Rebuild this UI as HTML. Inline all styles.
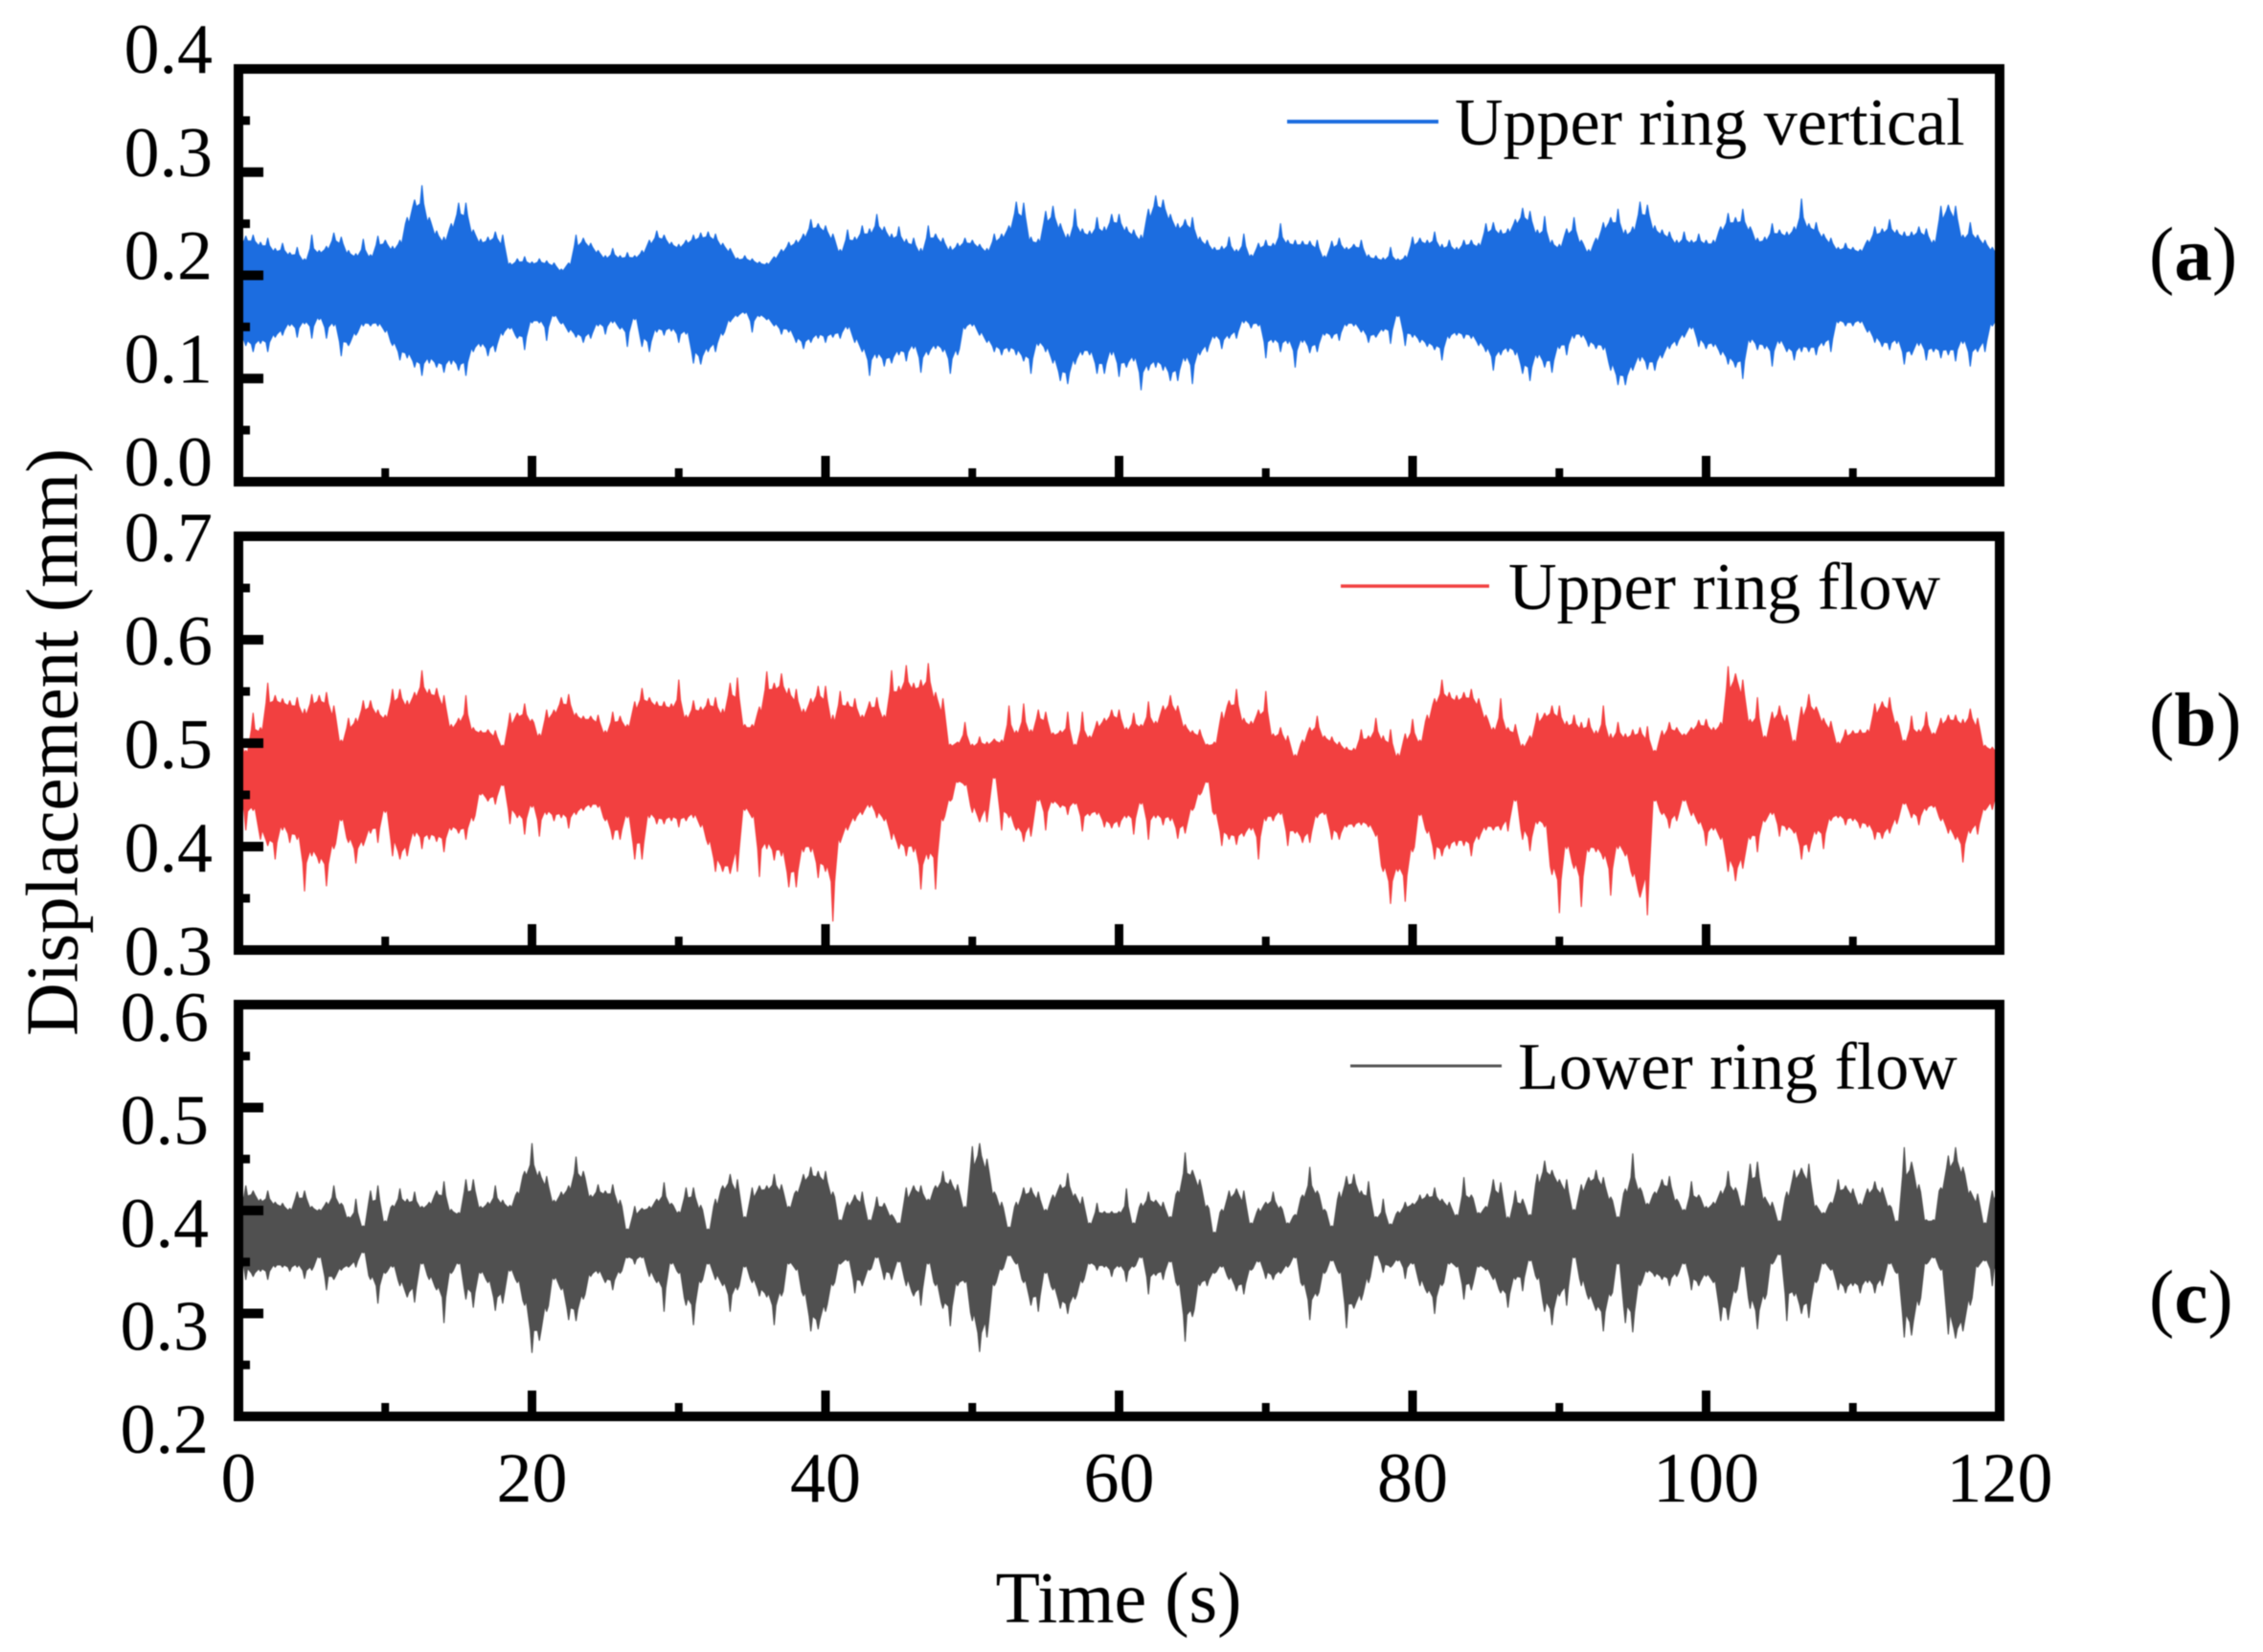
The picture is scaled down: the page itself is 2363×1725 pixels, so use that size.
<!DOCTYPE html>
<html lang="en">
<head>
<meta charset="utf-8">
<title>Displacement time histories</title>
<style>
html,body{margin:0;padding:0;background:#fff;width:2363px;height:1725px;overflow:hidden}
svg{display:block;filter:blur(.5px)}
text{font-family:"Liberation Serif","Times New Roman",serif;fill:#000}
</style>
</head>
<body>
<svg id="chart" xmlns="http://www.w3.org/2000/svg" width="2363" height="1725" viewBox="0 0 2363 1725">
  <rect width="2363" height="1725" fill="#fff"/>
  <g id="series-layer"></g>
  <g id="axes-layer"></g>

  <text transform="translate(80.5 775) rotate(-90)" text-anchor="middle" font-size="77">Displacement (mm)</text>
  <text x="1168" y="1694" text-anchor="middle" font-size="76">Time (s)</text>

  <line x1="1344" x2="1502" y1="127" y2="127" stroke="#1c6de0" stroke-width="4"/>
  <text x="1519" y="151" font-size="70">Upper ring vertical</text>
  <line x1="1400" x2="1555" y1="612" y2="612" stroke="#f24040" stroke-width="3.5"/>
  <text x="1575" y="636" font-size="70">Upper ring flow</text>
  <line x1="1410" x2="1568" y1="1113" y2="1113" stroke="#555" stroke-width="3"/>
  <text x="1585" y="1137" font-size="70">Lower ring flow</text>

  <text x="2244" y="292" font-size="79">(<tspan font-weight="bold">a</tspan>)</text>
  <text x="2244" y="778" font-size="79">(<tspan font-weight="bold">b</tspan>)</text>
  <text x="2244" y="1381" font-size="79">(<tspan font-weight="bold">c</tspan>)</text>
</svg>

<script>
// Sample spacing of the envelope arrays, seconds. Envelope values are micrometres.
const sampleStep = 0.5;

const timeTicks = [0, 20, 40, 60, 80, 100, 120];
const timeMinorTicks = [10, 30, 50, 70, 90, 110];
const ticksUpperVertical = ['0.0', '0.1', '0.2', '0.3', '0.4'];
const ticksUpperFlow = ['0.3', '0.4', '0.5', '0.6', '0.7'];
const ticksLowerFlow = ['0.2', '0.3', '0.4', '0.5', '0.6'];

const upperVerticalHigh = [
233,238,239,232,236,226,231,222,227,216,239,224,228,241,237,224,221,235,220,238,
234,228,234,256,273,287,256,243,237,250,270,270,244,235,237,242,239,212,216,218,
213,216,214,212,206,212,239,236,231,224,219,226,219,222,219,224,234,243,239,232,
230,234,239,241,242,240,231,226,217,219,216,213,212,218,225,232,234,240,254,250,
248,240,225,244,237,248,245,259,247,240,247,235,236,226,248,240,236,228,231,236,
234,230,226,240,240,248,271,270,237,235,262,267,250,240,264,245,243,256,247,259,
259,247,244,239,264,277,273,259,250,254,256,237,234,227,228,237,225,240,220,231,
234,231,250,234,234,233,233,234,219,233,236,227,230,234,220,219,217,227,216,219,
237,236,234,242,230,234,227,234,234,231,250,251,244,245,254,265,262,244,257,234,
230,245,256,234,225,236,251,256,264,244,247,271,268,248,244,242,234,242,234,240,
234,234,247,260,256,264,247,236,237,250,244,242,247,274,250,251,240,236,227,231,
227,225,234,247,245,254,244,242,242,247,245,234,267,268,267,239,251,239,234,227,
219];
const upperVerticalLow = [
142,132,126,134,126,140,142,151,140,153,139,157,139,151,122,132,142,151,151,151,
145,132,118,120,111,103,115,111,106,114,108,103,126,131,122,126,142,148,139,128,
154,154,137,160,153,145,140,135,139,151,143,154,148,131,157,131,126,145,142,146,
135,143,115,114,126,126,142,155,160,163,145,160,157,151,143,145,135,129,135,139,
135,140,139,148,135,126,103,120,112,115,123,117,129,106,123,129,126,105,123,148,
151,142,135,126,123,126,123,117,105,132,126,115,98,95,114,123,123,105,105,123,
102,111,117,89,108,111,108,98,98,117,95,123,126,139,129,139,139,154,149,151,
120,135,126,134,111,135,125,126,142,139,137,151,151,145,135,140,146,134,160,132,
140,135,131,128,118,139,142,139,139,132,126,108,123,126,123,105,98,120,111,106,
129,123,139,140,131,129,128,108,94,94,108,117,109,108,120,129,132,140,148,131,
129,131,123,114,111,100,135,128,129,112,134,126,118,126,126,123,132,126,154,151,
151,154,145,135,131,128,134,114,123,132,118,126,120,123,117,134,112,126,126,151,
157];

const upperFlowHigh = [
521,493,529,515,558,546,543,541,544,533,547,546,549,536,503,524,524,541,541,532,
527,552,552,541,549,570,552,553,546,518,524,546,515,512,513,512,498,529,529,538,
523,509,532,532,544,547,529,526,526,527,512,530,526,518,540,553,544,540,540,538,
561,527,541,535,543,544,533,558,563,518,518,535,569,558,567,553,552,533,543,555,
555,527,550,540,543,527,540,544,527,570,555,575,558,561,577,549,543,499,501,520,
499,506,501,504,503,536,512,538,513,532,530,510,512,530,499,530,507,521,524,532,
532,515,529,518,540,521,536,546,536,518,512,513,499,501,530,541,552,524,521,532,
550,509,515,507,489,503,515,526,507,506,501,496,495,513,507,524,507,513,490,509,
523,503,527,543,561,549,546,549,552,543,527,515,543,515,518,499,507,529,529,536,
536,521,527,520,524,512,536,509,520,509,513,515,516,493,512,520,515,509,515,522,
523,515,520,574,567,561,523,544,507,530,536,527,503,535,547,535,524,521,501,513,
512,513,513,538,540,544,521,503,526,513,530,510,524,527,527,523,533,524,498,496,
493];
const upperFlowLow = [
459,416,435,407,401,388,416,404,407,357,391,384,362,398,425,404,384,401,413,404,
433,391,388,391,410,398,407,405,395,416,413,407,425,450,444,441,459,422,428,412,
438,410,431,425,428,418,431,435,438,438,425,407,407,428,388,388,428,422,422,425,
419,425,428,419,402,376,376,374,376,435,428,371,398,387,391,361,361,395,395,370,
376,328,404,416,425,431,438,428,425,407,398,391,395,359,388,359,425,444,462,459,
433,424,424,466,416,428,416,405,410,444,416,442,438,431,441,415,430,431,419,418,
419,428,412,441,407,428,421,425,408,413,435,450,462,431,401,407,402,410,416,388,
425,425,431,401,413,404,404,428,431,407,407,419,419,421,419,410,376,345,376,347,
395,430,413,388,391,398,401,401,391,407,416,416,416,415,444,407,396,422,419,373,
336,398,379,342,395,395,388,353,398,391,371,351,334,444,431,418,425,444,430,422,
401,416,407,376,367,379,407,395,424,431,410,416,413,388,395,412,398,425,428,421,
425,418,419,407,408,413,422,441,428,421,435,438,425,413,407,385,413,412,435,436,
456];

const lowerFlowHigh = [
401,424,419,411,419,408,407,402,418,419,404,401,408,424,407,394,411,385,419,424,
390,405,421,411,418,404,408,419,428,401,398,430,430,404,408,424,410,405,418,438,
465,438,433,410,418,424,452,438,415,425,419,425,410,382,404,402,404,411,427,407,
399,422,422,405,382,411,424,435,430,394,422,424,424,435,425,404,419,435,442,438,
438,418,391,408,415,418,391,413,407,396,388,422,424,424,411,424,438,430,425,404,
462,465,450,418,408,384,408,422,422,418,401,415,425,436,416,413,388,407,399,399,
399,421,388,407,418,410,408,394,419,456,439,430,405,379,401,419,421,419,388,402,
408,418,404,388,396,415,442,419,401,385,418,433,435,419,428,394,411,387,399,408,
407,415,416,422,411,408,396,432,415,398,404,430,427,394,419,411,396,435,448,439,
430,430,401,425,432,439,432,413,394,421,455,422,407,418,430,433,411,401,428,415,
404,408,419,438,422,405,445,447,413,408,390,418,439,441,445,405,398,408,430,424,
421,407,421,428,422,405,390,461,447,425,391,391,422,453,461,442,419,416,388,419,
425];
const lowerFlowLow = [
361,333,336,341,333,345,345,341,345,334,342,354,323,333,342,345,345,359,333,310,
339,345,327,316,311,348,333,323,291,339,348,314,306,339,330,303,310,341,330,308,
262,274,302,333,323,294,293,314,336,339,330,323,339,354,348,354,336,330,302,348,
339,308,289,330,348,333,327,302,323,345,330,317,316,289,317,348,342,317,283,285,
302,327,348,351,320,327,342,354,333,333,350,327,317,308,348,327,305,288,327,330,
293,263,277,327,342,356,348,330,308,302,339,323,305,300,314,330,348,342,345,336,
345,331,345,354,319,337,333,350,327,273,297,327,327,339,345,333,322,319,342,350,
334,333,339,345,354,327,294,317,339,351,339,286,305,313,330,356,340,345,351,334,
348,327,320,300,327,348,345,314,323,345,342,333,320,306,333,322,351,333,302,289,
317,308,354,327,314,303,283,317,348,291,282,327,340,336,333,327,336,348,323,327,
336,330,293,294,320,345,305,285,314,348,357,293,317,300,296,330,348,342,323,320,
327,320,330,320,327,348,339,277,279,308,348,354,342,280,276,283,308,345,351,327,
354];

// ---- layout and axis functions ----
const svgNS = 'http://www.w3.org/2000/svg';
const plotLeft = 249, plotRight = 2088;
const timeMax = 120;
function xScale(t) { return plotLeft + (plotRight - plotLeft) * t / timeMax; }

function makeYScale(top, bottom, labels) {
  const lo = parseFloat(labels[0]);
  const hi = parseFloat(labels[labels.length - 1]);
  return function (v) { return bottom - (v - lo) / (hi - lo) * (bottom - top); };
}

function svgEl(tag, attrs, parent) {
  const el = document.createElementNS(svgNS, tag);
  for (const k in attrs) el.setAttribute(k, attrs[k]);
  parent.appendChild(el);
  return el;
}

// Each sample is drawn as a narrow spike rising out of the band formed by its neighbours.
const spikeHalfWidth = 1.8;
const fringeShare = 0.035;
function edgeValue(values, i) {
  const prev = values[Math.max(i - 1, 0)];
  const next = values[Math.min(i + 1, values.length - 1)];
  return (values[i] * 2 + prev + next) / 4;
}

function pushPoint(list, t, dx, yScale, micro) {
  list.push((xScale(t) + dx).toFixed(1) + ',' + yScale(micro / 1000).toFixed(1));
}

const panels = [
  { key: 'upper-ring-vertical', high: upperVerticalHigh, low: upperVerticalLow, color: '#1c6de0', labels: ticksUpperVertical, top: 72, bottom: 503, labelRight: 222, labelShift: 4 },
  { key: 'upper-ring-flow', high: upperFlowHigh, low: upperFlowLow, color: '#f24040', labels: ticksUpperFlow, top: 560, bottom: 992, labelRight: 222, labelShift: 26 },
  { key: 'lower-ring-flow', high: lowerFlowHigh, low: lowerFlowLow, color: '#505050', labels: ticksLowerFlow, top: 1049, bottom: 1479, labelRight: 218, labelShift: 38 }
];

const seriesLayer = document.getElementById('series-layer');
const axesLayer = document.getElementById('axes-layer');

panels.forEach(function (p) {
  const y = makeYScale(p.top, p.bottom, p.labels);

  const pts = [];
  p.high.forEach(function (v, i) {
    const t = i * sampleStep;
    const base = Math.min(v, edgeValue(p.high, i)) - fringeShare * (v - p.low[i]);
    pushPoint(pts, t, -spikeHalfWidth, y, base);
    pushPoint(pts, t, 0, y, v);
    pushPoint(pts, t, spikeHalfWidth, y, base);
  });
  for (let i = p.low.length - 1; i >= 0; i--) {
    const t = i * sampleStep;
    const v = p.low[i];
    const base = Math.max(v, edgeValue(p.low, i)) + fringeShare * (p.high[i] - v);
    pushPoint(pts, t, spikeHalfWidth, y, base);
    pushPoint(pts, t, 0, y, v);
    pushPoint(pts, t, -spikeHalfWidth, y, base);
  }
  const series = svgEl('polygon', { points: pts.join(' '), fill: p.color, stroke: p.color, 'stroke-width': 1.2, 'stroke-linejoin': 'round' }, seriesLayer);
  
  

  // frame
  const frame = svgEl('rect', { x: plotLeft, y: p.top, width: plotRight - plotLeft, height: p.bottom - p.top, fill: 'none', stroke: '#000', 'stroke-width': 10 }, axesLayer);
  
  

  // x ticks
  timeTicks.forEach(function (t) {
    const tick = svgEl('rect', { x: xScale(t) - 4.5, y: p.bottom - 27, width: 9, height: 27, fill: '#000' }, axesLayer);
    
    
  });
  timeMinorTicks.forEach(function (t) {
    const tick = svgEl('rect', { x: xScale(t) - 4, y: p.bottom - 14, width: 8, height: 14, fill: '#000' }, axesLayer);
    
    
  });

  // y ticks and labels
  p.labels.forEach(function (label, i) {
    const v = parseFloat(label);
    const tick = svgEl('rect', { x: plotLeft, y: y(v) - 5, width: 26, height: 10, fill: '#000' }, axesLayer);
    
    
    const text = svgEl('text', { x: p.labelRight, y: y(v) + p.labelShift, 'text-anchor': 'end', 'font-size': 74 }, axesLayer);
    text.textContent = label;
    
    
    if (i < p.labels.length - 1) {
      const next = parseFloat(p.labels[i + 1]);
      const minor = svgEl('rect', { x: plotLeft, y: y((v + next) / 2) - 4.5, width: 12, height: 9, fill: '#000' }, axesLayer);
      
      
    }
  });
});

timeTicks.forEach(function (t) {
  const label = svgEl('text', { x: xScale(t), y: 1568, 'text-anchor': 'middle', 'font-size': 74 }, axesLayer);
  label.textContent = String(t);
  
  
});
</script>
</body>
</html>
